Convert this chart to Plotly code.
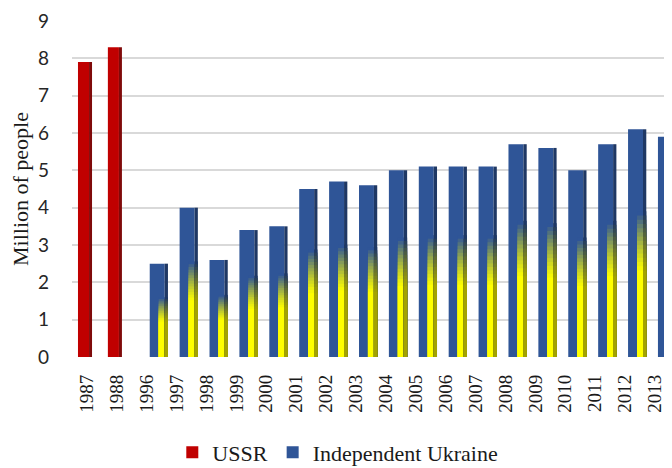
import plotly.graph_objects as go

# ---------------- data ----------------
categories = ['1987', '1988', '1996', '1997', '1998', '1999', '2000', '2001', '2002',
              '2003', '2004', '2005', '2006', '2007', '2008', '2009', '2010', '2011',
              '2012', '2013']
ussr_years = ['1987', '1988']
ussr_values = [7.9, 8.3]
ukraine_years = ['1996', '1997', '1998', '1999', '2000', '2001', '2002', '2003', '2004',
                 '2005', '2006', '2007', '2008', '2009', '2010', '2011', '2012', '2013']
ukraine_values = [2.5, 4.0, 2.6, 3.4, 3.5, 4.5, 4.7, 4.6, 5.0,
                  5.1, 5.1, 5.1, 5.7, 5.6, 5.0, 5.7, 6.1, 5.9]
y_ticks = [0, 1, 2, 3, 4, 5, 6, 7, 8, 9]

# ---------------- styles ----------------
RED = '#C00000'
RED_SIDE = '#7F0A0A'
BLUE = '#2F5597'
BLUE_SIDE = '#1F3864'
YELLOW = '#FFFF00'
YELLOW_SIDE = '#A3A300'


def mix(c1, c2, t):
    a = [int(c1[i:i + 2], 16) for i in (1, 3, 5)]
    b = [int(c2[i:i + 2], 16) for i in (1, 3, 5)]
    return 'rgb(%d,%d,%d)' % tuple(round(a[k] + (b[k] - a[k]) * t) for k in range(3))


fig = go.Figure()

# USSR bars: front face + side face
fig.add_trace(go.Bar(x=ussr_years, y=ussr_values, name='USSR',
                     marker=dict(color=RED, line=dict(width=0)),
                     offset=-0.30, width=0.37, showlegend=True))
fig.add_trace(go.Bar(x=ussr_years, y=ussr_values, marker=dict(color=RED_SIDE, line=dict(width=0)),
                     offset=0.07, width=0.10, showlegend=False, hoverinfo='skip'))

# Independent Ukraine bars: blue front + dark side
fig.add_trace(go.Bar(x=ukraine_years, y=ukraine_values, name='Independent Ukraine',
                     marker=dict(color=BLUE, line=dict(width=0)),
                     offset=0.10, width=0.50, showlegend=True))
fig.add_trace(go.Bar(x=ukraine_years, y=ukraine_values, marker=dict(color=BLUE_SIDE, line=dict(width=0)),
                     offset=0.60, width=0.11, showlegend=False, hoverinfo='skip'))

# yellow lower part fading to blue (right part of front face and side face);
# drawn as overlapping bars from the base, bluest (tallest) first
solid_frac = 0.38
top_frac = 0.64
n_steps = 14
for face_offset, face_width, c_y, c_b in [(0.40, 0.20, YELLOW, BLUE),
                                          (0.60, 0.11, YELLOW_SIDE, BLUE_SIDE)]:
    for k in range(n_steps, -1, -1):
        hi = solid_frac + (top_frac - solid_frac) * k / n_steps
        t = k / n_steps
        fig.add_trace(go.Bar(x=ukraine_years,
                             y=[v * hi for v in ukraine_values],
                             marker=dict(color=mix(c_y, c_b, t ** 1.2), line=dict(width=0)),
                             offset=face_offset, width=face_width,
                             showlegend=False, hoverinfo='skip'))

# the page body adds an 8px margin, so the figure is 8px smaller than the window
fig.update_layout(
    width=664, height=460,
    margin=dict(l=64, r=0, t=13, b=111),
    paper_bgcolor='white', plot_bgcolor='white',
    barmode='overlay',
    showlegend=True,
    legend=dict(orientation='h', x=0.443, xanchor='center',
                yref='container', y=0.034, yanchor='middle',
                font=dict(family='Liberation Serif', size=22, color='#1a1a1a'),
                traceorder='normal', itemwidth=30),
    xaxis=dict(type='category', categoryorder='array', categoryarray=categories,
               range=[-0.5, 19.57], showgrid=False, zeroline=False, showline=False,
               automargin=False,
               tickangle=-90, ticks='', ticklabelstandoff=13,
               tickfont=dict(family='Liberation Serif', size=19, color='#1a1a1a')),
    yaxis=dict(range=[0, 9], tickvals=y_ticks, showgrid=True, gridcolor='#D9D9D9', gridwidth=1.5,
               zeroline=False, showline=False, ticks='', ticklabelstandoff=22,
               automargin=False, ticklabeloverflow='allow',
               tickfont=dict(family='Lato', size=19, color='#262626'),
               title=dict(text='Million of people', standoff=19,
                          font=dict(family='Liberation Serif', size=22, color='#1a1a1a'))),
)

fig.write_html('out.html')
